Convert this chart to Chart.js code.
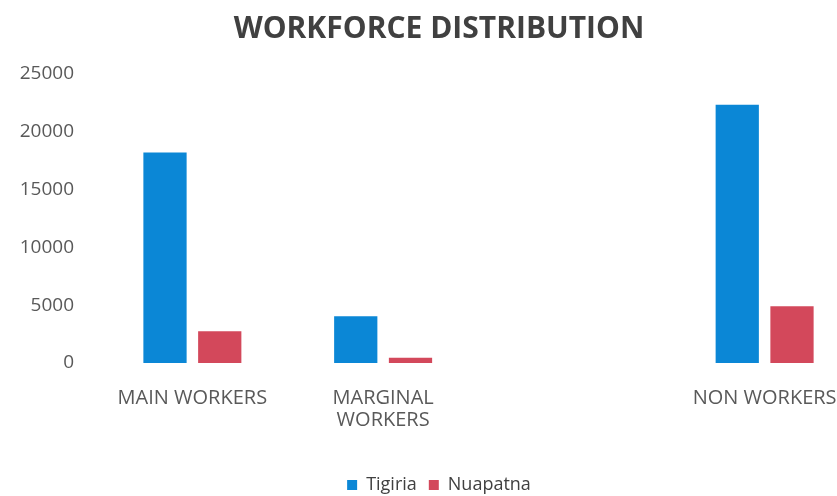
<!DOCTYPE html>
<html lang="en">
<head>
    <meta charset="UTF-8">
    <title>Workforce Distribution</title>
    <script src="https://cdn.jsdelivr.net/npm/chart.js"></script>
    <style>
        body { margin: 0; overflow: hidden; background: #fff; }
    </style>
</head>
<body>
    <canvas id="workChart" width="860" height="496"></canvas>
    <script>
        // values
        const categories = ['MAIN WORKERS', ['MARGINAL', 'WORKERS'], '', 'NON WORKERS'];
        const tigiria = [18200, 4050, null, 22350];
        const nuapatna = [2750, 450, null, 4900];
        const yTicks = [0, 5000, 10000, 15000, 20000, 25000];

        const ctx = document.getElementById('workChart').getContext('2d');
        new Chart(ctx, {
            type: 'bar',
            data: {
                labels: categories,
                datasets: [{
                    label: 'Tigiria',
                    data: tigiria,
                    backgroundColor: '#0b87d6',
                    categoryPercentage: 0.574,
                    barPercentage: 0.79
                }, {
                    label: 'Nuapatna',
                    data: nuapatna,
                    backgroundColor: '#d3485b',
                    categoryPercentage: 0.574,
                    barPercentage: 0.79
                }]
            },
            options: {
                responsive: false,
                animation: false,
                layout: { padding: { left: 18, right: 0, top: 0, bottom: -8 } },
                plugins: {
                    title: {
                        display: true,
                        text: 'WORKFORCE DISTRIBUTION',
                        color: '#404040',
                        font: { family: 'Open Sans', size: 30, weight: 'bold' },
                        padding: { top: 11, bottom: 27 }
                    },
                    legend: {
                        position: 'bottom',
                        labels: {
                            boxWidth: 10,
                            boxHeight: 10,
                            padding: 12,
                            color: '#404040',
                            font: { family: 'Open Sans', size: 18 }
                        }
                    },
                    tooltip: { enabled: false }
                },
                scales: {
                    x: {
                        grid: { display: false },
                        border: { display: false },
                        afterFit: axis => { axis.height += 17; },
                        ticks: {
                            color: '#595959',
                            padding: 16,
                            font: { family: 'Open Sans', size: 20, lineHeight: 1.1 },
                            maxRotation: 0,
                            autoSkip: false
                        }
                    },
                    y: {
                        min: 0,
                        max: 25000,
                        afterBuildTicks: axis => { axis.ticks = yTicks.map(v => ({ value: v })); },
                        afterFit: axis => { axis.width = 79; },
                        grid: { display: false },
                        border: { display: false },
                        ticks: {
                            color: '#595959',
                            padding: 15,
                            font: { family: 'Open Sans', size: 19 },
                            callback: v => String(v)
                        }
                    }
                }
            }
        });
    </script>
</body>
</html>
